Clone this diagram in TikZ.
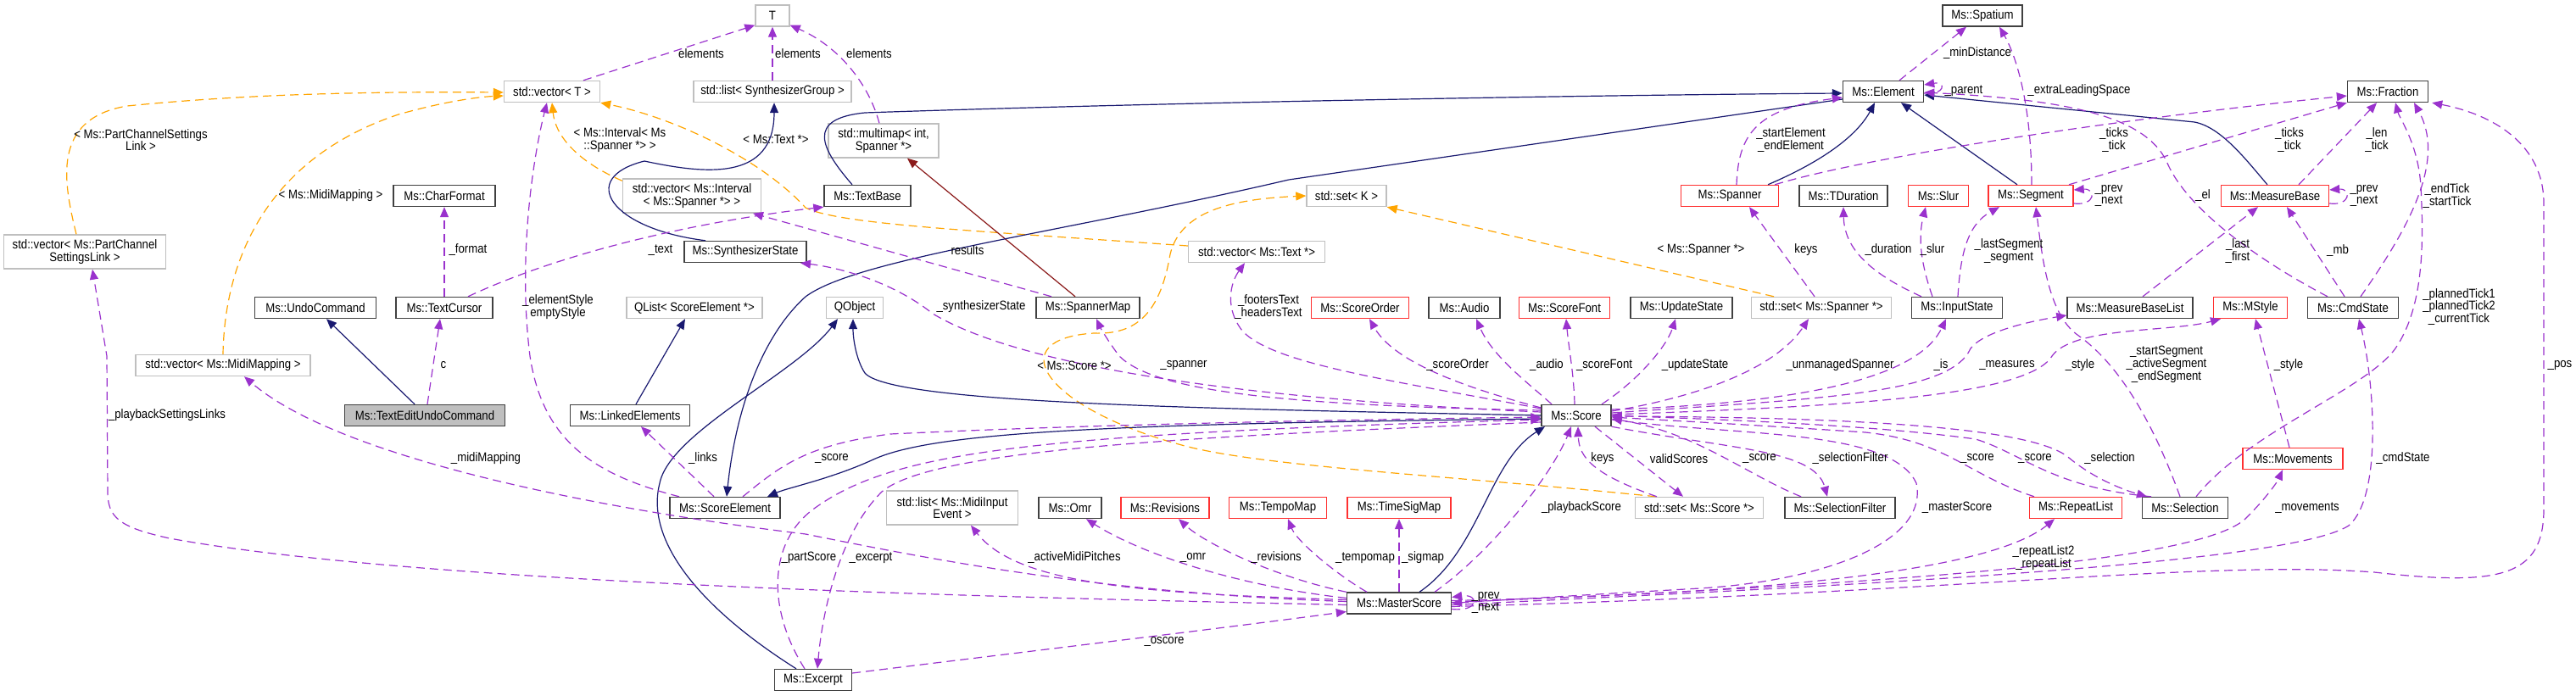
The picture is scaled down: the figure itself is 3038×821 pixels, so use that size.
\documentclass[tikz,border=0pt]{standalone}
\usepackage{fontspec}
\setmainfont{Liberation Sans}[FakeStretch=0.88]
\usetikzlibrary{arrows.meta}
\definecolor{usecol}{HTML}{9A32CD}
\definecolor{inhcol}{HTML}{191970}
\definecolor{tplcol}{HTML}{FFA500}
\definecolor{privcol}{HTML}{8B1A1A}
\definecolor{blkborder}{HTML}{404040}
\definecolor{gryborder}{HTML}{BFBFBF}
\definecolor{redborder}{HTML}{FF3030}
\definecolor{curfill}{HTML}{BFBFBF}
\newcommand{\dfont}{\fontsize{15}{14.7}\selectfont}
\newcommand{\Tlt}{\textless}
\newcommand{\Tgt}{\textgreater}
\begin{document}
\begin{tikzpicture}[x=1pt,y=-1pt,
  box/.style={rectangle, minimum height=25pt, inner sep=0pt, font=\dfont, align=center, line width=1.4pt},
  blk/.style={box, draw=blkborder, fill=white},
  gry/.style={box, draw=gryborder, fill=white},
  rdb/.style={box, draw=redborder, fill=white},
  cur/.style={box, draw=blkborder, fill=curfill},
  twol/.style={minimum height=40pt},
  lbl/.style={font=\dfont, align=center, inner sep=0pt},
  tipa/.style={-{Triangle[length=12pt,width=10pt]}},
  uses/.style={tipa, draw=usecol, line width=1.2pt, dash pattern=on 10pt off 6pt},
  tpl/.style={tipa, draw=tplcol, line width=1.2pt, dash pattern=on 10pt off 6pt},
  inh/.style={tipa, draw=inhcol, line width=1.2pt},
  priv/.style={tipa, draw=privcol, line width=1.2pt}]
\fill[white] (0,0) rectangle (3038,821);
\useasboundingbox (0,0) rectangle (3038,821);

% ---------- nodes ----------
\node[gry, minimum width=40pt] (T) at (911,18.5) {T};
\node[blk, minimum width=94pt] (Spatium) at (2338,18.5) {Ms::Spatium};
\node[gry, minimum width=113pt] (vecT) at (651,108) {std::vector\Tlt{} T \Tgt};
\node[gry, minimum width=186pt] (listSG) at (911,108) {std::list\Tlt{} SynthesizerGroup \Tgt};
\node[blk, minimum width=95pt] (Element) at (2221,108) {Ms::Element};
\node[blk, minimum width=95pt] (Fraction) at (2816,108) {Ms::Fraction};
\node[gry, twol, minimum width=130pt] (multimap) at (1042,166) {std::multimap\Tlt{} int,\\Spanner *\Tgt};
\node[blk, minimum width=120pt] (CharFormat) at (524,231) {Ms::CharFormat};
\node[gry, twol, minimum width=163pt] (vecInterval) at (816,231) {std::vector\Tlt{} Ms::Interval\\\Tlt{} Ms::Spanner *\Tgt{} \Tgt};
\node[blk, minimum width=102pt] (TextBase) at (1023,231) {Ms::TextBase};
\node[gry, minimum width=94pt] (setK) at (1588,231) {std::set\Tlt{} K \Tgt};
\node[rdb, minimum width=115pt] (Spanner) at (2040,231) {Ms::Spanner};
\node[blk, minimum width=104pt] (TDuration) at (2174,231) {Ms::TDuration};
\node[rdb, minimum width=71pt] (Slur) at (2286,231) {Ms::Slur};
\node[rdb, minimum width=100pt] (Segment) at (2395,231) {Ms::Segment};
\node[rdb, minimum width=127pt] (MeasureBase) at (2683,231) {Ms::MeasureBase};
\node[gry, twol, minimum width=191pt] (PartChannel) at (100,297) {std::vector\Tlt{} Ms::PartChannel\\SettingsLink \Tgt};
\node[blk, minimum width=144pt] (SynthState) at (879,297) {Ms::SynthesizerState};
\node[gry, minimum width=161pt] (vecText) at (1482,297) {std::vector\Tlt{} Ms::Text *\Tgt};
\node[blk, minimum width=143pt] (UndoCommand) at (372,363) {Ms::UndoCommand};
\node[blk, minimum width=114pt] (TextCursor) at (524,363) {Ms::TextCursor};
\node[gry, minimum width=160pt] (QList) at (819,363) {QList\Tlt{} ScoreElement *\Tgt};
\node[gry, minimum width=67pt] (QObject) at (1008,363) {QObject};
\node[blk, minimum width=122pt] (SpannerMap) at (1283,363) {Ms::SpannerMap};
\node[rdb, minimum width=115pt] (ScoreOrder) at (1604,363) {Ms::ScoreOrder};
\node[blk, minimum width=84pt] (Audio) at (1727,363) {Ms::Audio};
\node[rdb, minimum width=107pt] (ScoreFont) at (1845,363) {Ms::ScoreFont};
\node[blk, minimum width=120pt] (UpdateState) at (1983,363) {Ms::UpdateState};
\node[gry, minimum width=165pt] (setSpanner) at (2148,363) {std::set\Tlt{} Ms::Spanner *\Tgt};
\node[blk, minimum width=107pt] (InputState) at (2308,363) {Ms::InputState};
\node[blk, minimum width=148pt] (MeasureBaseList) at (2512,363) {Ms::MeasureBaseList};
\node[rdb, minimum width=87pt] (MStyle) at (2654,363) {Ms::MStyle};
\node[blk, minimum width=107pt] (CmdState) at (2775,363) {Ms::CmdState};
\node[gry, minimum width=206pt] (MidiMapping) at (263,431) {std::vector\Tlt{} Ms::MidiMapping \Tgt};
\node[cur, minimum width=189pt] (TEUC) at (501,490) {Ms::TextEditUndoCommand};
\node[blk, minimum width=141pt] (LinkedElements) at (743,490) {Ms::LinkedElements};
\node[blk, minimum width=82pt] (Score) at (1859,490) {Ms::Score};
\node[rdb, minimum width=118pt] (Movements) at (2704,541) {Ms::Movements};
\node[blk, minimum width=130pt] (ScoreElement) at (855,599) {Ms::ScoreElement};
\node[gry, twol, minimum width=155pt] (MidiInput) at (1123,599) {std::list\Tlt{} Ms::MidiInput\\Event \Tgt};
\node[blk, minimum width=74pt] (Omr) at (1262,599) {Ms::Omr};
\node[rdb, minimum width=104pt] (Revisions) at (1374,599) {Ms::Revisions};
\node[rdb, minimum width=115pt] (TempoMap) at (1507,599) {Ms::TempoMap};
\node[rdb, minimum width=122pt] (TimeSigMap) at (1650,599) {Ms::TimeSigMap};
\node[gry, minimum width=151pt] (setScore) at (2004,599) {std::set\Tlt{} Ms::Score *\Tgt};
\node[blk, minimum width=130pt] (SelectionFilter) at (2170,599) {Ms::SelectionFilter};
\node[rdb, minimum width=109pt] (RepeatList) at (2448,599) {Ms::RepeatList};
\node[blk, minimum width=101pt] (Selection) at (2577,599) {Ms::Selection};
\node[blk, minimum width=123pt] (MasterScore) at (1650,711.5) {Ms::MasterScore};
\node[blk, minimum width=91pt] (Excerpt) at (959,802) {Ms::Excerpt};

% ---------- template instantiation (orange) ----------
\draw[tpl] ([xshift=-10pt]PartChannel.north) .. controls (75,215) and (60,140) .. (150,125) .. controls (300,110) and (450,108) .. ([yshift=-1pt]vecT.west);
\draw[tpl] (MidiMapping.north) .. controls (265,300) and (320,185) .. (470,135) .. controls (530,118) and (570,114) .. ([yshift=-5pt]vecT.west);
\draw[tpl] ([yshift=-3pt]vecInterval.north west) .. controls (680,190) and (655,160) .. (vecT.south);
\draw[tpl] ([yshift=7pt]vecText.west) .. controls (1150,272) and (990,265) .. (950,245) .. controls (900,190) and (800,140) .. (vecT.south east);
\draw[tpl] ([xshift=-56pt]setSpanner.north) -- (setK.south east);
\draw[tpl] ([xshift=-51pt]setScore.north) .. controls (1700,560) and (1480,550) .. (1390,524) .. controls (1230,480) and (1180,400) .. (1290,393) .. controls (1340,395) and (1368,370) .. (1380,300) .. controls (1392,250) and (1450,235) .. (setK.west);

% ---------- inheritance ----------
\draw[inh] ([xshift=-12pt]TEUC.north) -- ([xshift=13pt]UndoCommand.south);
\draw[inh] ([xshift=-18pt]TextBase.north) .. controls (968,175) and (950,140) .. (1020,133) .. controls (1400,120) and (1900,112) .. ([yshift=-2pt]Element.west);
\draw[inh] ([xshift=-47pt]SynthState.north) .. controls (720,270) and (680,210) .. (760,190) .. controls (830,205) and (913,215) .. ([xshift=2pt]listSG.south);
\draw[priv] ([xshift=-15pt]SpannerMap.north) -- ([xshift=28pt]multimap.south);
\draw[inh] ([yshift=-9pt]Element.west) -- (1520,212) .. controls (1250,275) and (1010,305) .. (950,350) .. controls (900,395) and (868,480) .. ([xshift=2pt]ScoreElement.north);
\draw[inh] ([xshift=45pt]Spanner.north) .. controls (2150,190) and (2190,160) .. ([xshift=-10pt]Element.south);
\draw[inh] ([xshift=-16pt]Segment.north) -- ([xshift=21pt]Element.south);
\draw[inh] ([xshift=-9pt]MeasureBase.north) .. controls (2650,190) and (2620,150) .. (2588,144) -- ([yshift=-4pt]Element.east);
\draw[inh] (Score.west) .. controls (1400,482) and (1050,475) .. (1020,440) .. controls (1010,425) and (1006,400) .. ([xshift=-2pt]QObject.south);
\draw[inh] ([yshift=-4pt]Score.west) .. controls (1300,500) and (1100,510) .. (1030,542) .. controls (980,565) and (930,575) .. ([xshift=50pt]ScoreElement.north);
\draw[inh] ([xshift=-20pt]Excerpt.north) .. controls (830,720) and (760,640) .. (778,570) .. controls (790,510) and (940,440) .. ([xshift=-20pt]QObject.south);
\draw[inh] ([xshift=7pt]LinkedElements.north) -- ([xshift=-11pt]QList.south);
\draw[inh] ([xshift=24pt]MasterScore.north) .. controls (1745,650) and (1755,545) .. ([xshift=-37pt]Score.south);

% ---------- usage (purple) ----------
\draw[uses] ([xshift=37pt]vecT.north) -- ([yshift=2pt]T.south west);
\draw[uses] (listSG.north) -- (T.south);
\draw[uses] ([xshift=-5pt]multimap.north) .. controls (1025,100) and (990,55) .. ([yshift=2pt]T.south east);
\draw[uses] ([xshift=3pt]TEUC.north) -- ([xshift=-5pt]TextCursor.south);
\draw[uses] (TextCursor.north) -- (CharFormat.south);
\draw[uses] ([xshift=28pt]TextCursor.north) .. controls (680,290) and (850,258) .. (TextBase.south west);
\draw[uses] ([xshift=-54pt]ScoreElement.north) .. controls (700,560) and (640,520) .. (625,420) .. controls (610,300) and (630,180) .. ([xshift=-6pt]vecT.south);
\draw[uses] ([yshift=4pt]Score.west) .. controls (1450,470) and (1200,430) .. (1100,370) .. controls (1050,330) and (985,315) .. ([xshift=65pt]SynthState.south);
\draw[uses] ([yshift=6pt]Score.west) .. controls (1500,478) and (1360,460) .. (1320,420) .. controls (1305,400) and (1297,385) .. ([xshift=10pt]SpannerMap.south);
\draw[uses] ([xshift=-43pt]SpannerMap.north) -- ([xshift=72pt]vecInterval.south);
\draw[uses] ([yshift=8pt]Score.west) .. controls (1650,450) and (1500,430) .. (1465,390) .. controls (1445,365) and (1450,335) .. ([xshift=-14pt]vecText.south);
\draw[uses] ([xshift=21pt]ScoreElement.north) .. controls (920,550) and (950,525) .. (1050,512) .. controls (1300,500) and (1600,495) .. ([yshift=-2pt]Score.west);
\draw[uses] ([xshift=-10pt]Excerpt.north) .. controls (905,720) and (905,640) .. (960,600) .. controls (1050,535) and (1200,512) .. ([yshift=-5pt]Score.west);
\draw[uses] ([yshift=-8pt]Score.west) .. controls (1400,515) and (1100,530) .. (1040,580) .. controls (990,630) and (970,720) .. ([xshift=5pt]Excerpt.north);
\draw[uses] ([xshift=-13pt]ScoreElement.north) -- ([xshift=13pt]LinkedElements.south);
\draw[uses] ([yshift=2pt]MasterScore.west) .. controls (1300,700) and (1100,660) .. (950,630) .. controls (700,600) and (400,540) .. ([xshift=25pt]MidiMapping.south);
\draw[uses] ([yshift=-2pt]MasterScore.west) .. controls (1200,705) and (500,690) .. (200,635) .. controls (140,622) and (127,610) .. (127,580) -- (126,420) -- ([xshift=9pt]PartChannel.south);
\draw[uses] ([yshift=4pt]MasterScore.west) .. controls (1350,700) and (1200,690) .. ([xshift=22pt]MidiInput.south);
\draw[uses] ([yshift=6pt]MasterScore.west) .. controls (1450,690) and (1340,650) .. ([xshift=19pt]Omr.south);
\draw[uses] (MasterScore.north west) .. controls (1500,680) and (1420,640) .. ([xshift=16pt]Revisions.south);
\draw[uses] ([xshift=-38pt]MasterScore.north) .. controls (1580,680) and (1530,640) .. ([xshift=12pt]TempoMap.south);
\draw[uses] (MasterScore.north) -- (TimeSigMap.south);
\draw[uses] ([yshift=8pt]Excerpt.east) .. controls (1200,770) and (1450,740) .. ([yshift=-10pt]MasterScore.west);
\draw[uses] ([yshift=-7pt]MasterScore.east) .. controls (1745,722) and (1745,700) .. ([yshift=7pt]MasterScore.east);
\draw[uses] ([yshift=-5pt]Score.east) .. controls (2050,515) and (2230,505) .. (2260,570) .. controls (2275,640) and (2150,685) .. (2005,694) .. controls (1900,700) and (1800,706) .. (MasterScore.east);
\draw[uses] (Score.south east) .. controls (2040,530) and (2140,530) .. ([xshift=-15pt]SelectionFilter.north);
\draw[uses] ([xshift=-46pt]SelectionFilter.north) .. controls (2060,560) and (2000,510) .. ([yshift=-4pt]Score.east);
\draw[uses] ([xshift=22pt]Score.south) -- ([xshift=-19pt]setScore.north);
\draw[uses] ([xshift=-50pt]setScore.north) .. controls (1880,560) and (1862,540) .. ([xshift=2pt]Score.south);
\draw[uses] ([xshift=42pt]MasterScore.north) .. controls (1760,650) and (1830,560) .. ([xshift=-6pt]Score.south);
\draw[uses] ([yshift=9pt]Score.west) .. controls (1700,450) and (1640,420) .. ([xshift=11pt]ScoreOrder.south);
\draw[uses] ([xshift=-29pt]Score.north) .. controls (1800,450) and (1760,420) .. ([xshift=14pt]Audio.south);
\draw[uses] ([xshift=-2pt]Score.north) .. controls (1856,440) and (1850,410) .. ([xshift=2pt]ScoreFont.south);
\draw[uses] ([xshift=30pt]Score.north) .. controls (1930,450) and (1965,410) .. ([xshift=-7pt]UpdateState.south);
\draw[uses] ([yshift=5pt]Score.east) .. controls (1990,470) and (2090,440) .. ([xshift=-15pt]setSpanner.south);
\draw[uses] ([yshift=7pt]Score.east) .. controls (2150,475) and (2265,440) .. ([xshift=-13pt]InputState.south);
\draw[uses] ([yshift=3pt]Score.east) .. controls (2150,470) and (2300,465) .. (2324,411) .. controls (2340,390) and (2400,378) .. ([yshift=-9pt]MeasureBaseList.west);
\draw[uses] ([yshift=1pt]Score.east) .. controls (2150,480) and (2390,470) .. (2420,420) .. controls (2445,385) and (2560,392) .. ([xshift=-35pt]MStyle.south);
\draw[uses] ([xshift=-49pt]RepeatList.north) .. controls (2320,560) and (2295,520) .. (2200,510) .. controls (2050,500) and (1950,495) .. ([yshift=-2pt]Score.east);
\draw[uses] ([xshift=-40pt]Selection.north) .. controls (2420,575) and (2385,535) .. (2330,518) .. controls (2200,500) and (2000,494) .. (Score.east);
\draw[uses] ([yshift=-1pt]Score.east) .. controls (2200,492) and (2400,505) .. (2440,540) .. controls (2470,565) and (2505,578) .. ([xshift=-45pt]Selection.north);
\draw[uses] ([xshift=-6pt]Selection.north) .. controls (2540,500) and (2500,430) .. (2450,395) .. controls (2415,370) and (2408,300) .. ([xshift=6pt]Segment.south);
\draw[uses] ([xshift=13pt]Selection.north) .. controls (2650,510) and (2790,460) .. (2825,411) .. controls (2860,360) and (2858,280) .. (2855,220) .. controls (2852,170) and (2830,140) .. ([xshift=9pt]Fraction.south);
\draw[uses] ([xshift=9pt]CmdState.north) .. controls (2840,270) and (2885,190) .. ([xshift=31pt]Fraction.south);
\draw[uses] ([yshift=-2pt]MasterScore.east) .. controls (2200,690) and (2700,665) .. (2770,620) .. controls (2810,585) and (2800,450) .. ([xshift=7pt]CmdState.south);
\draw[uses] ([yshift=1pt]MasterScore.east) .. controls (2200,690) and (2600,665) .. (2650,610) .. controls (2670,590) and (2685,570) .. ([xshift=-12pt]Movements.south);
\draw[uses] ([yshift=3pt]MasterScore.east) .. controls (2100,700) and (2350,672) .. ([xshift=-25pt]RepeatList.south);
\draw[uses] ([yshift=-4pt]MasterScore.east) .. controls (2300,700) and (2600,660) .. (2800,675) .. controls (2950,692) and (3000,680) .. (3000,600) -- (3000,240) .. controls (3000,170) and (2940,135) .. ([xshift=4pt]Fraction.south east);
\draw[uses] ([xshift=-4pt]Movements.north) -- ([xshift=6pt]MStyle.south);
\draw[uses] ([xshift=1pt]InputState.north) .. controls (2312,300) and (2320,265) .. ([xshift=-37pt]Segment.south);
\draw[uses] ([xshift=-42pt]InputState.north) .. controls (2200,320) and (2175,290) .. (TDuration.south);
\draw[uses] ([xshift=-29pt]InputState.north) .. controls (2265,310) and (2262,280) .. ([xshift=-15pt]Slur.south);
\draw[uses] ([xshift=-8pt]setSpanner.north) -- ([xshift=23pt]Spanner.south);
\draw[uses] ([xshift=8pt]Spanner.north) .. controls (2050,160) and (2070,128) .. ([yshift=-7pt]Element.west);
\draw[uses] ([xshift=-5pt]Spanner.north east) .. controls (2200,185) and (2500,140) .. ([yshift=-5pt]Fraction.west);
\draw[uses] ([xshift=45pt]Segment.north) -- (Fraction.south west);
\draw[uses] ([yshift=-9pt]Segment.east) .. controls (2472,243) and (2472,222) .. ([yshift=7pt]Segment.east);
\draw[uses] ([yshift=-9pt]MeasureBase.east) .. controls (2773,243) and (2773,222) .. ([yshift=7pt]MeasureBase.east);
\draw[uses] ([xshift=1pt]Segment.north) .. controls (2396,130) and (2380,70) .. ([xshift=20pt]Spatium.south);
\draw[uses] ([xshift=19pt]Element.north) -- ([xshift=-19pt]Spatium.south);
\draw[uses] ([yshift=-2pt]Element.east) .. controls (2295,112) and (2295,96) .. ([yshift=8pt]Element.east);
\draw[uses] ([xshift=-30pt]CmdState.north) .. controls (2650,300) and (2575,240) .. (2555,190) .. controls (2530,140) and (2450,118) .. ([yshift=-1pt]Element.east);
\draw[uses] ([xshift=-10pt]CmdState.north) -- ([xshift=14pt]MeasureBase.south);
\draw[uses] ([xshift=15pt]MeasureBaseList.north) -- ([xshift=-20pt]MeasureBase.south);
\draw[uses] ([xshift=28pt]MeasureBase.north) -- ([xshift=-13pt]Fraction.south);

% ---------- labels ----------
\node[lbl] (l01) at (166,165) {\Tlt{} Ms::PartChannelSettings\\Link \Tgt};
\node[lbl] (l02) at (390,231) {\Tlt{} Ms::MidiMapping \Tgt};
\node[lbl] (l03) at (731,165) {\Tlt{} Ms::Interval\Tlt{} Ms\\::Spanner *\Tgt{} \Tgt};
\node[lbl] (l04) at (915,164) {\Tlt{} Ms::Text *\Tgt};
\node[lbl] (l05) at (2006,295) {\Tlt{} Ms::Spanner *\Tgt};
\node[lbl] (l06) at (1267,431) {\Tlt{} Ms::Score *\Tgt};
\node[lbl] (l07) at (827,63) {elements};
\node[lbl] (l08) at (941,63) {elements};
\node[lbl] (l09) at (1025,63) {elements};
\node[lbl] (l10) at (552,295) {\_format};
\node[lbl] (l11) at (779,295) {\_text};
\node[lbl] (l12) at (658,362) {\_elementStyle\\emptyStyle};
\node[lbl] (l13) at (523,431) {c};
\node[lbl] (l14) at (197,490) {\_playbackSettingsLinks};
\node[lbl] (l15) at (573,541) {\_midiMapping};
\node[lbl] (l16) at (1141,295) {results};
\node[lbl] (l17) at (1157,362) {\_synthesizerState};
\node[lbl] (l18) at (1496,362) {\_footersText\\\_headersText};
\node[lbl] (l19) at (1396,431) {\_spanner};
\node[lbl] (l20) at (829,541) {\_links};
\node[lbl] (l21) at (981,541) {\_score};
\node[lbl] (l22) at (954,658) {\_partScore};
\node[lbl] (l23) at (1027,658) {\_excerpt};
\node[lbl] (l24) at (1267,658) {\_activeMidiPitches};
\node[lbl] (l25) at (1407,658) {\_omr};
\node[lbl] (l26) at (1505,658) {\_revisions};
\node[lbl] (l27) at (1610,658) {\_tempomap};
\node[lbl] (l28) at (1678,658) {\_sigmap};
\node[lbl] (l29) at (1373,757) {\_oscore};
\node[lbl] (l30) at (1752,711) {\_prev\\\_next};
\node[lbl] (l31) at (1719,431) {\_scoreOrder};
\node[lbl] (l32) at (1824,431) {\_audio};
\node[lbl] (l33) at (1892,431) {\_scoreFont};
\node[lbl] (l34) at (1999,431) {\_updateState};
\node[lbl] (l35) at (2170,431) {\_unmanagedSpanner};
\node[lbl] (l36) at (1890,541) {keys};
\node[lbl] (l37) at (1980,541) {validScores};
\node[lbl] (l38) at (2075,541) {\_score};
\node[lbl] (l39) at (2182,541) {\_selectionFilter};
\node[lbl] (l40) at (1865,599) {\_playbackScore};
\node[lbl] (l41) at (2289,431) {\_is};
\node[lbl] (l42) at (2367,431) {\_measures};
\node[lbl] (l43) at (2453,431) {\_style};
\node[lbl] (l44) at (2555,430) {\_startSegment\\\_activeSegment\\\_endSegment};
\node[lbl] (l45) at (2699,431) {\_style};
\node[lbl] (l46) at (3019,431) {\_pos};
\node[lbl] (l47) at (2332,541) {\_score};
\node[lbl] (l48) at (2400,541) {\_score};
\node[lbl] (l49) at (2488,541) {\_selection};
\node[lbl] (l50) at (2834,541) {\_cmdState};
\node[lbl] (l51) at (2308,599) {\_masterScore};
\node[lbl] (l52) at (2721,599) {\_movements};
\node[lbl] (l53) at (2410,658) {\_repeatList2\\\_repeatList};
\node[lbl] (l54) at (2112,165) {\_startElement\\\_endElement};
\node[lbl] (l55) at (2130,295) {keys};
\node[lbl] (l56) at (2227,295) {\_duration};
\node[lbl] (l57) at (2279,295) {\_slur};
\node[lbl] (l58) at (2369,296) {\_lastSegment\\\_segment};
\node[lbl] (l59) at (2332,63) {\_minDistance};
\node[lbl] (l60) at (2316,107) {\_parent};
\node[lbl] (l61) at (2452,107) {\_extraLeadingSpace};
\node[lbl] (l62) at (2493,165) {\_ticks\\\_tick};
\node[lbl] (l63) at (2700,165) {\_ticks\\\_tick};
\node[lbl] (l64) at (2803,165) {\_len\\\_tick};
\node[lbl] (l65) at (2487,231) {\_prev\\\_next};
\node[lbl] (l66) at (2598,231) {\_el};
\node[lbl] (l67) at (2788,231) {\_prev\\\_next};
\node[lbl] (l68) at (2886,231) {\_endTick\\\_startTick};
\node[lbl] (l69) at (2639,296) {\_last\\\_first};
\node[lbl] (l70) at (2757,296) {\_mb};
\node[lbl] (l71) at (2900,362) {\_plannedTick1\\\_plannedTick2\\\_currentTick};
\end{tikzpicture}
\end{document}
